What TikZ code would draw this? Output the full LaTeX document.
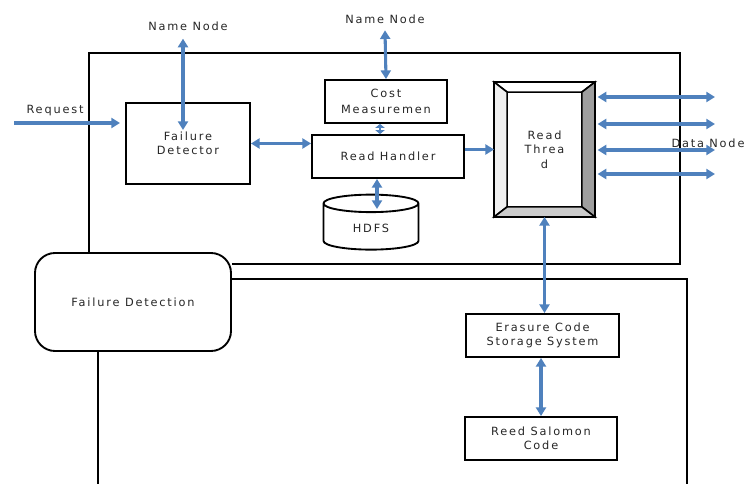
\documentclass[tikz,border=0pt]{standalone}
\usepackage{fontspec}
\setmainfont{DejaVu Sans}[LetterSpace=16]
\usepackage{xcolor}
\usetikzlibrary{shapes.geometric,arrows.meta,positioning}
\definecolor{arrowblue}{HTML}{4F81BD}
\definecolor{textgray}{HTML}{262626}

\begin{document}
\begin{tikzpicture}[
    x=0.75pt, y=-0.75pt,
    >={Triangle[length=6.5pt,width=7.5pt]},
    box/.style={draw, line width=1.4pt, align=center, inner sep=1pt, text=textgray, font=\fontsize{8.5}{10.5}\selectfont},
    lbl/.style={inner sep=1pt, text=textgray, font=\fontsize{8.5}{10.5}\selectfont},
    frame/.style={draw, line width=1.5pt},
    arrow/.style={<->, line width=2.3pt, draw=arrowblue},
    onearrow/.style={->, line width=2.3pt, draw=arrowblue},
]
\useasboundingbox (0,0) rectangle (753,484);

% Outer frames
\node[box, rounded corners=15pt, minimum width=147pt, minimum height=73.5pt] (fdetect) at (133,302) {Failure Detection};
\draw[frame] (fdetect.east |- 0,264) -- (680,264) -- (680,53) -- (89,53) -- (89,0 |- fdetect.north);
\draw[frame] (fdetect.east |- 0,279) -- (687,279) -- (687,484);
\draw[frame] (98,0 |- fdetect.south) -- (98,484);

% Inner boxes
\node[box, minimum width=93pt, minimum height=60.75pt] (detector) at (188,143.5) {Failure\\Detector};
\node[box, minimum width=91.5pt, minimum height=32.25pt, font=\fontsize{8.5}{12}\selectfont] (cost) at (386,101.5) {Cost\\Measuremen};
\node[box, minimum width=114pt, minimum height=32.25pt] (handler) at (388,156.5) {Read Handler};
\node[box, cylinder, shape border rotate=90, aspect=0.45, minimum width=71.25pt, minimum height=41.25pt] (hdfs) at (371,228) {HDFS};
\node[box, minimum width=114.75pt, minimum height=32.25pt] (erasure) at (542.5,335.5) {Erasure Code\\Storage System};
\node[box, minimum width=114pt, minimum height=32.25pt] (reed) at (541,438.5) {Reed Salomon\\Code};

% Read thread with bevel
\node[box, minimum width=74.25pt, minimum height=99.75pt] (thread) at (544.5,149.5) {};
\draw[line width=1.2pt, fill=white] (thread.north west) -- (thread.north east) -- ([xshift=-9.75pt,yshift=-7.5pt]thread.north east) -- ([xshift=9.75pt,yshift=-7.5pt]thread.north west) -- cycle;
\draw[line width=1.2pt, fill=black!6] (thread.north west) -- ([xshift=9.75pt,yshift=-7.5pt]thread.north west) -- ([xshift=9.75pt,yshift=7.5pt]thread.south west) -- (thread.south west) -- cycle;
\draw[line width=1.2pt, fill=black!38] (thread.north east) -- ([xshift=-9.75pt,yshift=-7.5pt]thread.north east) -- ([xshift=-9.75pt,yshift=7.5pt]thread.south east) -- (thread.south east) -- cycle;
\draw[line width=1.2pt, fill=black!20] (thread.south west) -- ([xshift=9.75pt,yshift=7.5pt]thread.south west) -- ([xshift=-9.75pt,yshift=7.5pt]thread.south east) -- (thread.south east) -- cycle;
\draw[line width=1.4pt] (thread.north west) rectangle (thread.south east);
\node[lbl, align=center, font=\fontsize{8.5}{11}\selectfont] at (thread.center) {Read\\Threa\\d};

% Labels
\node[lbl] (nn1) at (188,26) {Name Node};
\node[lbl] (nn2) at (385,19) {Name Node};
\node[lbl] (req) at (55,111) {Request};
\coordinate (nn1in) at (183,130);
\coordinate (reqstart) at (14,123);
\coordinate (reqend) at (120,123);
\coordinate (hdfsin) at (377,209);

% Arrows
\draw[arrow] ([yshift=-5pt]nn1.south -| nn1in) -- (nn1in);
\draw[arrow] ([yshift=-4pt]nn2.south) -- (cost.north);
\draw[onearrow] (reqstart) -- (reqend);
\draw[arrow] (detector.east) -- (detector.east -| handler.west);
\draw[<->, line width=1.2pt, draw=arrowblue, >={Triangle[length=3pt,width=7pt]}] ([xshift=-4.5pt]cost.south) -- ([xshift=-4.5pt]cost.south |- handler.north);
\draw[arrow] (handler.south -| hdfsin) -- (hdfsin);
\draw[onearrow] (handler.east |- thread.west) -- (thread.west);
\foreach \y [count=\i] in {97,124,150,174} {
  \coordinate (dn\i) at (715,\y);
  \draw[arrow] ([xshift=2pt]thread.east |- dn\i) -- (dn\i);
}
\node[lbl] (dn) at (708,143) {Data Node};
\draw[arrow] (thread.south) -- (thread.south |- erasure.north);
\draw[arrow] (erasure.south -| reed.north) -- (reed.north);

\end{tikzpicture}
\end{document}
